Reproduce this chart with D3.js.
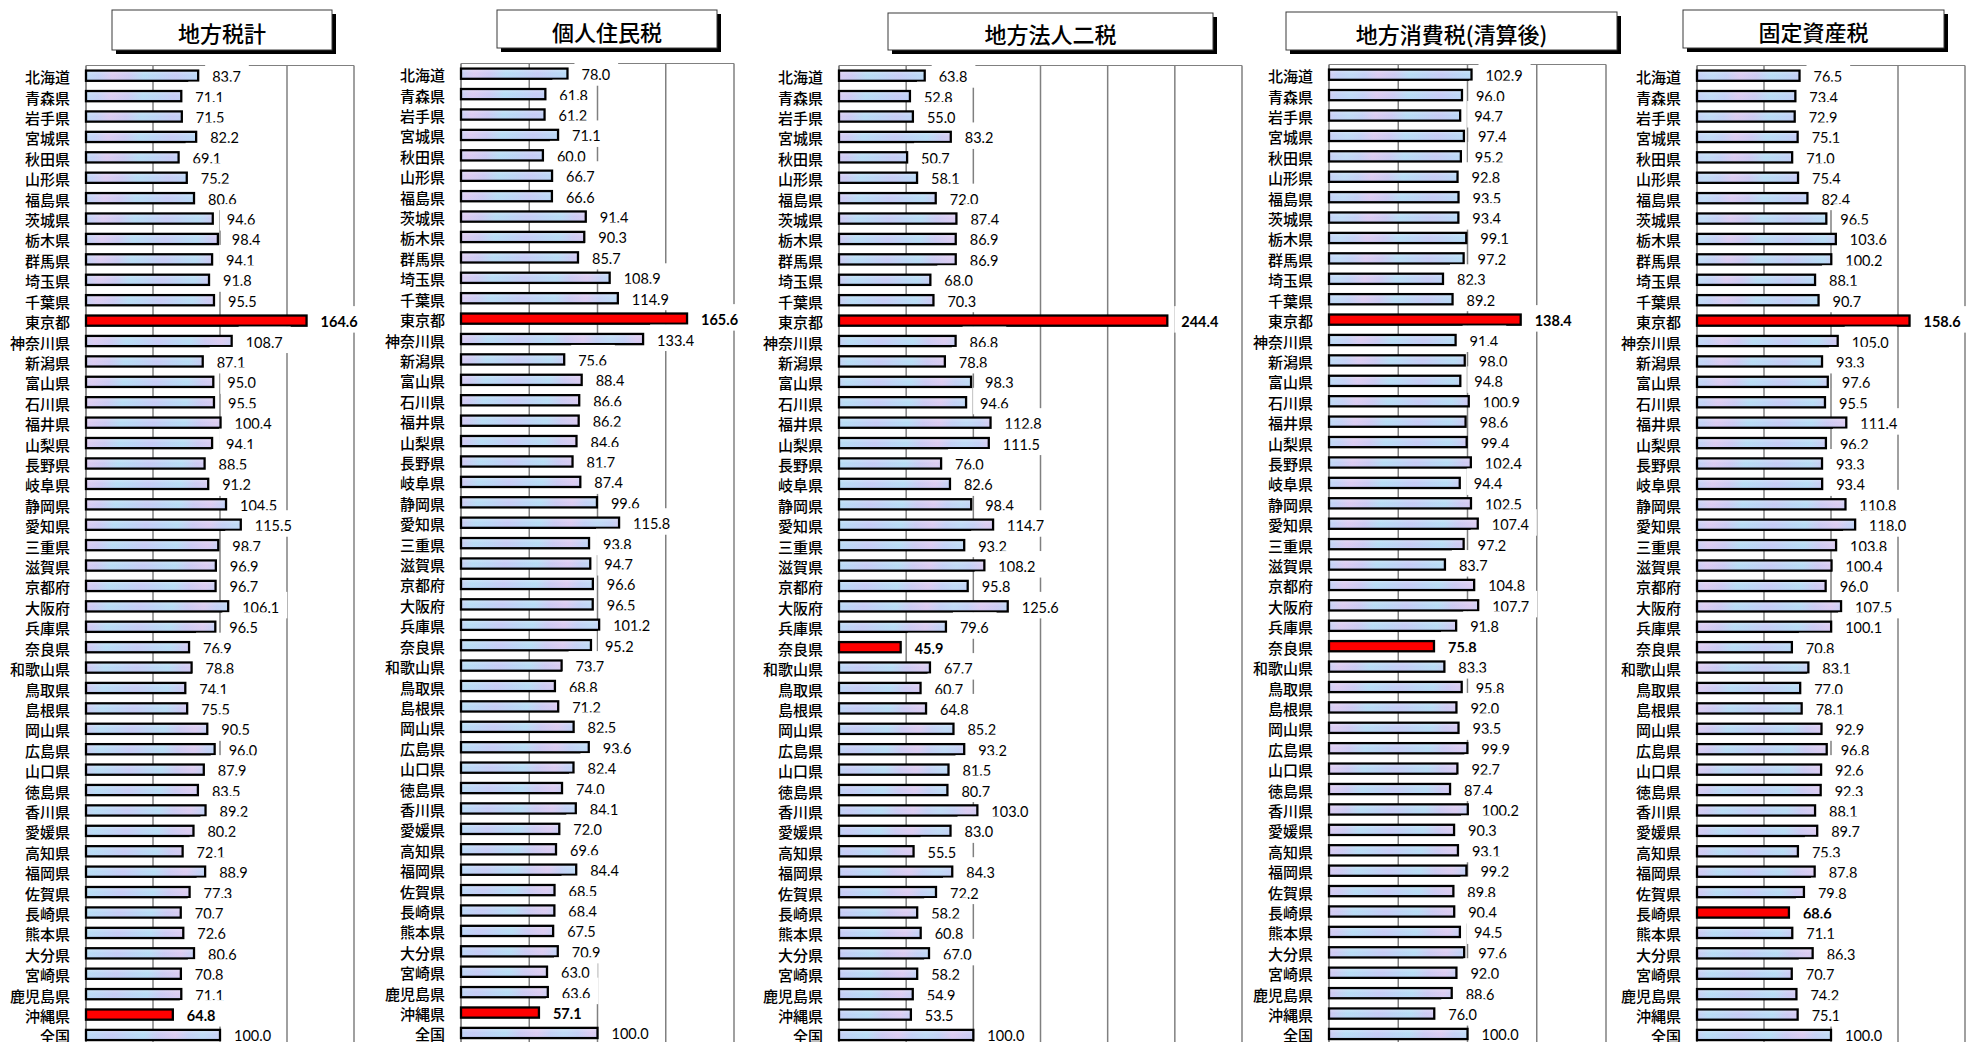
<!DOCTYPE html>
<html>
<head>
<meta charset="utf-8">
<script src="https://cdn.jsdelivr.net/npm/d3@7"></script>
<style>
  html, body { margin: 0; padding: 0; background: #fff; }
  svg { display: block; }
</style>
</head>
<body>
<svg id="chart" width="1984" height="1042"></svg>
<script>
// Prefectures (top to bottom), national total last
const prefectures = [
  "北海道","青森県","岩手県","宮城県","秋田県","山形県","福島県","茨城県","栃木県","群馬県",
  "埼玉県","千葉県","東京都","神奈川県","新潟県","富山県","石川県","福井県","山梨県","長野県",
  "岐阜県","静岡県","愛知県","三重県","滋賀県","京都府","大阪府","兵庫県","奈良県","和歌山県",
  "鳥取県","島根県","岡山県","広島県","山口県","徳島県","香川県","愛媛県","高知県","福岡県",
  "佐賀県","長崎県","熊本県","大分県","宮崎県","鹿児島県","沖縄県","全国"
];

// Per-capita index (全国 = 100)
const localTaxTotal = [
  83.7, 71.1, 71.5, 82.2, 69.1, 75.2, 80.6, 94.6, 98.4, 94.1,
  91.8, 95.5, 164.6, 108.7, 87.1, 95.0, 95.5, 100.4, 94.1, 88.5,
  91.2, 104.5, 115.5, 98.7, 96.9, 96.7, 106.1, 96.5, 76.9, 78.8,
  74.1, 75.5, 90.5, 96.0, 87.9, 83.5, 89.2, 80.2, 72.1, 88.9,
  77.3, 70.7, 72.6, 80.6, 70.8, 71.1, 64.8, 100.0
];
const individualInhabitantTax = [
  78.0, 61.8, 61.2, 71.1, 60.0, 66.7, 66.6, 91.4, 90.3, 85.7,
  108.9, 114.9, 165.6, 133.4, 75.6, 88.4, 86.6, 86.2, 84.6, 81.7,
  87.4, 99.6, 115.8, 93.8, 94.7, 96.6, 96.5, 101.2, 95.2, 73.7,
  68.8, 71.2, 82.5, 93.6, 82.4, 74.0, 84.1, 72.0, 69.6, 84.4,
  68.5, 68.4, 67.5, 70.9, 63.0, 63.6, 57.1, 100.0
];
const corporateTwoTaxes = [
  63.8, 52.8, 55.0, 83.2, 50.7, 58.1, 72.0, 87.4, 86.9, 86.9,
  68.0, 70.3, 244.4, 86.8, 78.8, 98.3, 94.6, 112.8, 111.5, 76.0,
  82.6, 98.4, 114.7, 93.2, 108.2, 95.8, 125.6, 79.6, 45.9, 67.7,
  60.7, 64.8, 85.2, 93.2, 81.5, 80.7, 103.0, 83.0, 55.5, 84.3,
  72.2, 58.2, 60.8, 67.0, 58.2, 54.9, 53.5, 100.0
];
const localConsumptionTax = [
  102.9, 96.0, 94.7, 97.4, 95.2, 92.8, 93.5, 93.4, 99.1, 97.2,
  82.3, 89.2, 138.4, 91.4, 98.0, 94.8, 100.9, 98.6, 99.4, 102.4,
  94.4, 102.5, 107.4, 97.2, 83.7, 104.8, 107.7, 91.8, 75.8, 83.3,
  95.8, 92.0, 93.5, 99.9, 92.7, 87.4, 100.2, 90.3, 93.1, 99.2,
  89.8, 90.4, 94.5, 97.6, 92.0, 88.6, 76.0, 100.0
];
const fixedAssetTax = [
  76.5, 73.4, 72.9, 75.1, 71.0, 75.4, 82.4, 96.5, 103.6, 100.2,
  88.1, 90.7, 158.6, 105.0, 93.3, 97.6, 95.5, 111.4, 96.2, 93.3,
  93.4, 110.8, 118.0, 103.8, 100.4, 96.0, 107.5, 100.1, 70.8, 83.1,
  77.0, 78.1, 92.9, 96.8, 92.6, 92.3, 88.1, 89.7, 75.3, 87.8,
  79.8, 68.6, 71.1, 86.3, 70.7, 74.2, 75.1, 100.0
];

const panelTitles = ["地方税計", "個人住民税", "地方法人二税", "地方消費税(清算後)", "固定資産税"];
const panelSeries = [localTaxTotal, individualInhabitantTax, corporateTwoTaxes, localConsumptionTax, fixedAssetTax];
const panelAxisMax = [200, 200, 300, 200, 200];
// Highest and lowest prefecture of each tax, drawn in red
const highlighted = [
  ["東京都", "沖縄県"],
  ["東京都", "沖縄県"],
  ["東京都", "奈良県"],
  ["東京都", "奈良県"],
  ["東京都", "長崎県"]
];

// ---- layout ----
const plotBoxes = [
  { left: 86,   right: 354,  top: 65.5 },
  { left: 461,  right: 734,  top: 63.5 },
  { left: 839,  right: 1242, top: 65.5 },
  { left: 1329, right: 1606, top: 64.5 },
  { left: 1697, right: 1965, top: 65.5 }
];
const titleBoxes = [
  { x: 112,  y: 10, w: 220, h: 40 },
  { x: 497,  y: 10, w: 220, h: 38 },
  { x: 888,  y: 13, w: 325, h: 37 },
  { x: 1286, y: 12, w: 331, h: 38 },
  { x: 1683, y: 10, w: 261, h: 38 }
];
const rowStep = 20.41;
const gridColor = "#808080";

const svg = d3.select("#chart");
const defs = svg.append("defs");

// mottled pale blue / lavender bar fill
const grad = defs.append("linearGradient")
  .attr("id", "barFill")
  .attr("gradientUnits", "userSpaceOnUse")
  .attr("x1", 0).attr("y1", 0).attr("x2", 90).attr("y2", 6)
  .attr("spreadMethod", "reflect");
[
  [0.00, "#c6cbf6"], [0.18, "#bcd5f6"], [0.35, "#b7ddf5"], [0.52, "#cccaf3"],
  [0.70, "#dccbf1"], [0.85, "#c4d1f6"], [1.00, "#bfdbf6"]
].forEach(([o, c]) => grad.append("stop").attr("offset", o).attr("stop-color", c));

const vgrad = defs.append("linearGradient")
  .attr("id", "barSheen").attr("x1", 0).attr("y1", 0).attr("x2", 0).attr("y2", 1);
vgrad.append("stop").attr("offset", 0).attr("stop-color", "#ffffff").attr("stop-opacity", 0.25);
vgrad.append("stop").attr("offset", 0.5).attr("stop-color", "#ffffff").attr("stop-opacity", 0.0);
vgrad.append("stop").attr("offset", 1).attr("stop-color", "#a9b8ee").attr("stop-opacity", 0.2);

const jpFont = "'Noto Sans CJK JP', 'Noto Sans CJK SC', sans-serif";
const numFont = "Lato, 'Noto Sans', sans-serif";

panelSeries.forEach((values, p) => {
  const box = plotBoxes[p];
  const max = panelAxisMax[p];
  const g = svg.append("g").attr("class", "panel");

  const x = d3.scaleLinear().domain([0, max]).range([box.left, box.right]);
  const y = d3.scaleBand()
    .domain(prefectures)
    .range([box.top, box.top + rowStep * prefectures.length])
    .paddingInner(0.5)
    .paddingOuter(0.25);
  const bottom = box.top + rowStep * prefectures.length;

  // title box with drop shadow
  const tb = titleBoxes[p];
  g.append("rect").attr("x", tb.x + 4).attr("y", tb.y + 4).attr("width", tb.w).attr("height", tb.h)
    .attr("fill", "#000");
  g.append("rect").attr("x", tb.x).attr("y", tb.y).attr("width", tb.w).attr("height", tb.h)
    .attr("fill", "#fff").attr("stroke", "#3a3a3a").attr("stroke-width", 1);
  g.append("text")
    .attr("x", tb.x + tb.w / 2).attr("y", tb.y + tb.h / 2 + 1.5)
    .attr("text-anchor", "middle").attr("dominant-baseline", "central")
    .attr("font-family", jpFont).attr("font-size", 22).attr("font-weight", 500).attr("fill", "#000")
    .text(panelTitles[p]);

  // plot frame and vertical gridlines
  g.append("line").attr("x1", box.left).attr("x2", box.right)
    .attr("y1", box.top).attr("y2", box.top)
    .attr("stroke", gridColor).attr("stroke-width", 1.2);
  const gridValues = d3.range(50, max + 1, 50);
  g.selectAll("line.grid").data(gridValues).join("line")
    .attr("class", "grid")
    .attr("x1", d => x(d)).attr("x2", d => x(d))
    .attr("y1", box.top).attr("y2", bottom)
    .attr("stroke", gridColor).attr("stroke-width", 1.5);
  g.append("line").attr("x1", box.left).attr("x2", box.left)
    .attr("y1", box.top).attr("y2", bottom)
    .attr("stroke", gridColor).attr("stroke-width", 1.8);

  const rows = prefectures.map((name, i) => ({
    name, value: values[i], hot: highlighted[p].includes(name)
  }));

  // bars
  g.selectAll("rect.bar").data(rows).join("rect")
    .attr("class", "bar")
    .attr("x", x(0))
    .attr("y", d => y(d.name))
    .attr("width", d => x(d.value) - x(0))
    .attr("height", y.bandwidth())
    .attr("fill", d => d.hot ? "#ff0000" : "url(#barFill)")
    .attr("stroke", "#000").attr("stroke-width", 2.3);
  g.selectAll("rect.sheen").data(rows.filter(d => !d.hot)).join("rect")
    .attr("class", "sheen")
    .attr("x", x(0) + 1.2)
    .attr("y", d => y(d.name) + 1.2)
    .attr("width", d => Math.max(0, x(d.value) - x(0) - 2.4))
    .attr("height", y.bandwidth() - 2.4)
    .attr("fill", "url(#barSheen)");

  // category labels
  g.selectAll("text.cat").data(rows).join("text")
    .attr("class", "cat")
    .attr("x", box.left - 16)
    .attr("y", d => y(d.name) + y.bandwidth() / 2 + 1)
    .attr("text-anchor", "end").attr("dominant-baseline", "central")
    .attr("font-family", jpFont).attr("font-size", 15).attr("font-weight", 500).attr("fill", "#000")
    .text(d => d.name);

  // value labels on white boxes
  const labelLayer = g.append("g");
  rows.forEach(d => {
    const cy = y(d.name) + y.bandwidth() / 2;
    const tx = x(d.value) + 14;
    const bg = labelLayer.append("rect").attr("fill", "#fff");
    const t = labelLayer.append("text")
      .attr("x", tx).attr("y", cy + 1)
      .attr("dominant-baseline", "central")
      .attr("font-family", numFont).attr("font-size", 14.5)
      .attr("font-weight", d.hot ? 700 : 400)
      .attr("fill", "#000")
      .text(d3.format(".1f")(d.value));
    const w = t.node().getComputedTextLength();
    bg.attr("x", tx - 7).attr("y", cy - 14.5).attr("width", w + 15).attr("height", 26.5);
  });
});
</script>
</body>
</html>
